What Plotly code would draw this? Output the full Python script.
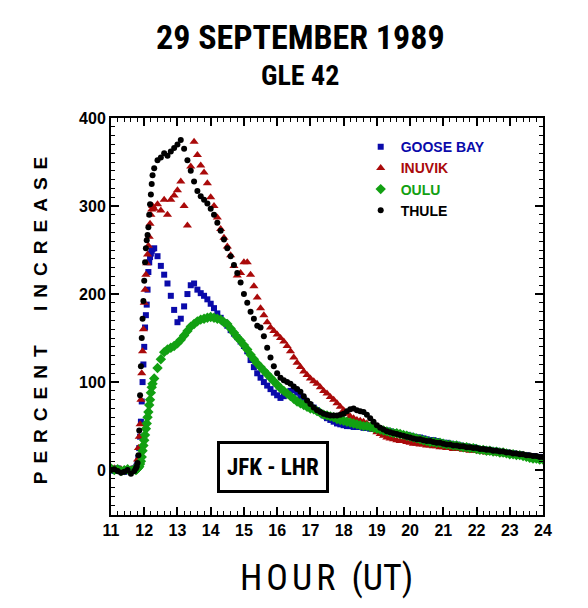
import plotly.graph_objects as go

# ---------------- data ----------------
HOURS_PRE = [11.0, 11.1, 11.2, 11.3, 11.4, 11.5, 11.6, 11.7]
HOURS_RISE = [11.75, 11.775, 11.8, 11.825, 11.85, 11.875, 11.9, 11.925, 11.95, 11.975,
              12.0, 12.025, 12.05, 12.075, 12.1, 12.125, 12.15, 12.175, 12.2, 12.225, 12.25]
HOURS_MAIN = [round(12.3 + 0.1 * i, 2) for i in range(118)]
HOURS = HOURS_PRE + HOURS_RISE + HOURS_MAIN

GOOSE_BAY = [
    1, -1, 2, 0, -2, 1, 0, 2,
    3, 5, 8, 14, 25, 38, 55, 78, 100, 120, 140, 162, 176, 188, 205, 225, 236, 242, 246, 249, 251,
    252, 243, 232, 222, 212, 198, 182,
    168, 172, 186, 200, 210, 212, 205, 201, 198, 194,
    189, 184, 178, 173, 168, 164, 159, 155, 151, 146,
    141, 135, 125, 117, 110, 105, 100, 96, 92, 88,
    85, 82, 84, 87, 90, 91, 88, 84, 80, 77,
    74, 71, 68, 65, 62, 59, 57, 55, 53, 52,
    51, 50, 50, 49, 49, 49, 48, 48, 47, 47,
    46, 46, 45, 45, 44, 43, 42, 41, 40, 40,
    39, 38, 37, 37, 36, 35, 34, 34, 33, 32,
    31, 31, 30, 29, 29, 28, 27, 27, 26, 26,
    25, 24, 24, 23, 23, 22, 22, 21, 20, 20,
    19, 19, 18, 18, 17, 17, 16, 16, 15, 15,
    14,
]
INUVIK = [
    0, 2, -1, 1, 0, -2, 1, 0,
    2, 6, 12, 25, 38, 52, 80, 110, 135, 160, 190, 205, 222, 235, 245, 255, 265, 280, 290, 296, 300,
    297, 302, 295, 307, 290, 307, 312,
    318, 328, 300, 278, 345, 373, 358, 346, 338, 326,
    310, 300, 287, 274, 264, 254, 244, 232, 221, 224,
    236, 236, 222, 209, 196, 184, 176, 168, 162, 158,
    154, 150, 146, 141, 135, 128, 122, 117, 112, 108,
    104, 101, 98, 94, 90, 87, 83, 80, 76, 72,
    68, 64, 61, 59, 57, 56, 55, 53, 50, 46,
    43, 41, 39, 37, 36, 35, 34, 33, 33, 32,
    31, 30, 30, 29, 29, 28, 28, 27, 27, 26,
    26, 25, 25, 24, 24, 24, 23, 23, 22, 22,
    22, 21, 21, 20, 20, 20, 19, 19, 18, 18,
    18, 17, 17, 16, 16, 15, 15, 14, 14, 13,
    13,
]
OULU = [
    2, 0, 1, -1, 0, 1, -1, 1,
    0, 1, 2, 3, 4, 7, 10, 15, 22, 28, 34, 40, 47, 53, 60, 66, 74, 80, 88, 94, 98,
    104, 116, 126, 134, 137, 139, 141,
    144, 148, 153, 158, 163, 166, 169, 171, 172, 173,
    174, 173, 172, 171, 168, 166, 161, 156, 151, 147,
    142, 137, 131, 126, 121, 117, 113, 109, 105, 101,
    97, 93, 90, 87, 84, 81, 78, 76, 74, 72,
    70, 69, 67, 65, 63, 62, 61, 60, 58, 57,
    56, 55, 54, 53, 52, 51, 50, 50, 49, 48,
    47, 46, 45, 44, 43, 42, 42, 41, 40, 39,
    38, 37, 36, 35, 34, 33, 32, 32, 31, 31,
    30, 29, 29, 28, 28, 27, 26, 26, 25, 25,
    24, 23, 23, 22, 22, 21, 21, 20, 20, 19,
    18, 18, 17, 17, 16, 15, 14, 13, 13, 12,
    12,
]
THULE = [
    0, 1, -1, -3, -2, 0, -4, -1,
    2, 4, 8, 17, 45, 85, 118, 150, 172, 192, 215, 236, 252, 261, 267, 276, 290, 302, 313, 325, 335,
    343, 352, 355, 360, 357, 362, 366,
    370, 375, 365, 352, 340, 328, 317, 311, 307, 303,
    297, 290, 281, 272, 262, 252, 243, 233, 224, 213,
    200, 190, 180, 172, 164, 162, 152, 139, 128, 118,
    110, 105, 102, 100, 98, 95, 92, 89, 84, 79,
    75, 71, 68, 66, 64, 63, 62, 62, 62, 63,
    64, 67, 69, 70, 68, 67, 66, 63, 59, 55,
    51, 48, 46, 44, 43, 42, 41, 40, 39, 38,
    37, 36, 35, 35, 34, 33, 33, 32, 31, 31,
    30, 29, 29, 28, 28, 27, 27, 26, 26, 25,
    25, 24, 24, 23, 23, 22, 22, 21, 21, 20,
    20, 19, 19, 18, 18, 17, 17, 16, 16, 15,
    15,
]

STATIONS = ["GOOSE BAY", "INUVIK", "OULU", "THULE"]
SERIES = [GOOSE_BAY, INUVIK, OULU, THULE]
COLORS = ["#0a0aaa", "#aa0a0a", "#12a012", "#000000"]
SYMBOLS = ["square", "triangle-up", "diamond", "circle"]
SIZES = [6, 8, 8, 6]

for s in SERIES:
    assert len(s) == len(HOURS), (len(s), len(HOURS))

SANS = "Liberation Sans, Arial, sans-serif"
COND = "Roboto Condensed, Liberation Sans, sans-serif"

fig = go.Figure()
for name, vals, col, sym, sz in zip(STATIONS, SERIES, COLORS, SYMBOLS, SIZES):
    fig.add_trace(go.Scatter(
        x=HOURS, y=vals, mode="markers", cliponaxis=True,
        name=f'<span style="color:{col}">{name}</span>',
        marker=dict(symbol=sym, size=sz, color=col, line=dict(width=0)),
    ))

axis_common = dict(
    showline=True, linecolor="black", linewidth=2, mirror="ticks",
    ticks="inside", ticklen=8, tickwidth=1.5, tickcolor="black",
    showgrid=False, zeroline=False,
    tickfont=dict(family=SANS, size=16, color="black", weight="bold"),
)
fig.update_xaxes(range=[11, 24], dtick=1, tick0=11,
                 minor=dict(dtick=0.2, ticks="inside", ticklen=4, tickwidth=1, tickcolor="black"),
                 **axis_common)
fig.update_yaxes(range=[-51, 400], dtick=100, tick0=0,
                 minor=dict(dtick=10, ticks="inside", ticklen=4, tickwidth=1, tickcolor="black"),
                 **axis_common)

fig.update_layout(
    width=588, height=608,
    margin=dict(l=111, r=45, t=118, b=93, pad=0),
    paper_bgcolor="white", plot_bgcolor="white",
    showlegend=True,
    legend=dict(x=0.578, y=0.967, xanchor="left", yanchor="top",
                bgcolor="rgba(0,0,0,0)", borderwidth=0,
                font=dict(family=SANS, size=14, weight="bold"),
                itemwidth=30, tracegroupgap=0),
    annotations=[
        dict(text="29 SEPTEMBER 1989", xref="paper", yref="paper", x=0.4375, y=1.204,
             xanchor="center", yanchor="middle", showarrow=False,
             font=dict(family=COND, size=34, color="black", weight="bold")),
        dict(text="GLE 42", xref="paper", yref="paper", x=0.4375, y=1.108,
             xanchor="center", yanchor="middle", showarrow=False,
             font=dict(family=COND, size=28, color="black", weight="bold")),
        dict(text='<span style="letter-spacing:8px">PERCENT  INCREASE</span>',
             xref="paper", yref="paper", x=-0.164, y=0.501, textangle=-90,
             xanchor="center", yanchor="middle", showarrow=False,
             font=dict(family=SANS, size=19, color="black", weight="bold")),
        dict(text='<span style="letter-spacing:4px">HOUR </span>(UT)',
             xref="paper", yref="paper", x=0.498, y=-0.159,
             xanchor="center", yanchor="middle", showarrow=False,
             font=dict(family=COND, size=36, color="black")),
        dict(text="JFK - LHR", xref="paper", yref="paper", x=0.374, y=0.121,
             xanchor="center", yanchor="middle", showarrow=False,
             width=104, height=44, borderpad=1, borderwidth=3, bordercolor="black",
             bgcolor="white",
             font=dict(family=COND, size=23, color="black", weight="bold")),
    ],
)

fig.write_html("out.html")
